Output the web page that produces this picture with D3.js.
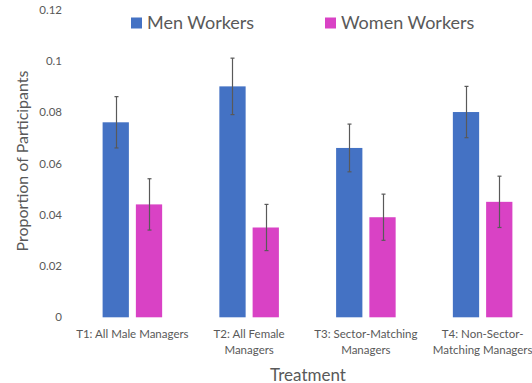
<!DOCTYPE html>
<html>
<head>
<meta charset="utf-8">
<script src="https://cdn.jsdelivr.net/npm/d3@7"></script>
<style>
  html, body { margin: 0; padding: 0; background: #fff; }
  svg { display: block; font-family: Lato, "Open Sans", sans-serif; }
</style>
</head>
<body>
<svg id="chart" width="532" height="383"></svg>
<script>
// Treatments (each label split into its display lines)
const categories = ["T1", "T2", "T3", "T4"];
const categoryLabels = [
  ["T1: All Male Managers"],
  ["T2: All Female", "Managers"],
  ["T3: Sector-Matching", "Managers"],
  ["T4: Non-Sector-", "Matching Managers"]
];
const seriesNames = ["Men Workers", "Women Workers"];
const menValues = [0.076, 0.090, 0.066, 0.080];
const womenValues = [0.044, 0.035, 0.039, 0.045];
const menErrors = [0.010, 0.011, 0.0093, 0.010];
const womenErrors = [0.010, 0.009, 0.009, 0.010];
const yTicks = [0, 0.02, 0.04, 0.06, 0.08, 0.1, 0.12];
const yTickLabels = ["0", "0.02", "0.04", "0.06", "0.08", "0.1", "0.12"];
const colors = ["#4472C4", "#D942C5"];

const svg = d3.select("#chart");
const textColor = "#595959";

const x = d3.scaleBand().domain(categories).range([74, 541])
  .paddingInner(0.49).paddingOuter(0.245);
const xs = d3.scaleBand().domain(seriesNames).range([0, x.bandwidth()])
  .paddingInner(0.21).paddingOuter(0);
const y = d3.scaleLinear().domain([0, 0.12]).range([317.3, 9.4]);

const series = [
  { name: seriesNames[0], values: menValues, errors: menErrors, color: colors[0] },
  { name: seriesNames[1], values: womenValues, errors: womenErrors, color: colors[1] }
];

// Y axis tick labels (no axis line)
const yAxis = d3.axisLeft(y).tickValues(yTicks)
  .tickFormat((d, i) => yTickLabels[i]).tickSize(0).tickPadding(0);
const yg = svg.append("g").attr("transform", "translate(62,0)").call(yAxis);
yg.select(".domain").remove();
yg.selectAll("text").attr("fill", textColor).style("font-size", "11.5px")
  .style("font-family", "Lato, 'Open Sans', sans-serif");

// Bars and error bars
const groups = svg.append("g").selectAll("g").data(series).join("g");
groups.selectAll("rect")
  .data(s => s.values.map((v, i) => ({ s, v, i })))
  .join("rect")
  .attr("x", d => x(categories[d.i]) + xs(d.s.name))
  .attr("width", xs.bandwidth())
  .attr("y", d => y(d.v))
  .attr("height", d => y(0) - y(d.v))
  .attr("fill", d => d.s.color);

const errG = svg.append("g").attr("stroke", "#595959").attr("stroke-width", 1.2);
series.forEach(s => {
  s.values.forEach((v, i) => {
    const cx = Math.round(x(categories[i]) + xs(s.name) + xs.bandwidth() / 2) + 0.5;
    const top = y(v + s.errors[i]);
    const bot = y(v - s.errors[i]);
    errG.append("line").attr("x1", cx).attr("x2", cx).attr("y1", top).attr("y2", bot);
    errG.append("line").attr("x1", cx - 2).attr("x2", cx + 2).attr("y1", top).attr("y2", top);
    errG.append("line").attr("x1", cx - 2).attr("x2", cx + 2).attr("y1", bot).attr("y2", bot);
  });
});

// Category labels
const xl = svg.append("g").attr("fill", textColor).style("font-size", "11.5px")
  .attr("text-anchor", "middle");
categories.forEach((c, i) => {
  const t = xl.append("text").attr("x", x(c) + x.bandwidth() / 2).attr("y", 338);
  categoryLabels[i].forEach((line, j) => {
    t.append("tspan").attr("x", x(c) + x.bandwidth() / 2).attr("dy", j === 0 ? 0 : 16).text(line);
  });
});

// Axis titles
svg.append("text").attr("x", 308).attr("y", 380.5).attr("text-anchor", "middle")
  .attr("fill", textColor).style("font-size", "17px").text("Treatment");
svg.append("text").attr("transform", "translate(28,161) rotate(-90)")
  .attr("text-anchor", "middle").attr("fill", textColor).style("font-size", "16px")
  .text("Proportion of Participants");

// Legend
const legendX = [131, 325];
const lg = svg.append("g");
series.forEach((s, i) => {
  lg.append("rect").attr("x", legendX[i]).attr("y", 17.5).attr("width", 11).attr("height", 11)
    .attr("fill", s.color);
  lg.append("text").attr("x", legendX[i] + 16).attr("y", 29).attr("fill", textColor)
    .style("font-size", "18px").text(s.name);
});
</script>
</body>
</html>
